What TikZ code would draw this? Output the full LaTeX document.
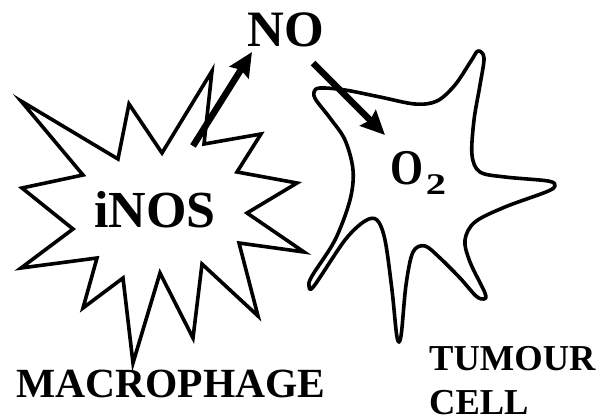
\documentclass[tikz,border=0pt]{standalone}
\usepackage{fontspec}
\setmainfont{Liberation Serif}
\usetikzlibrary{arrows.meta}
\begin{document}
\begin{tikzpicture}[x=1pt,y=-1pt,
  outline/.style={line width=3.6pt,line join=miter,miter limit=20},
  cellline/.style={line width=3.6pt,line join=round},
  flow/.style={line width=6.5pt,-{Stealth[length=24pt,width=22pt,inset=3pt]}},
  label/.style={inner sep=0pt,font=\bfseries}]
\useasboundingbox (0,0) rectangle (603,420);

% macrophage: a jagged star
\draw[outline] (21,101) -- (118,159) -- (129,104) -- (162,153) -- (212,71)
  -- (204,144) -- (261,134) -- (237,172) -- (297,183) -- (247,213)
  -- (304,252) -- (239,243) -- (258,316) -- (202,264) -- (193,338)
  -- (160,273) -- (133,363) -- (123,278) -- (83,308) -- (97,258)
  -- (21,268) -- (73,229) -- (22,188) -- (83,175) -- cycle;

% tumour cell: smooth outline with long processes
\draw[cellline] plot[smooth cycle,tension=0.55] coordinates {
  (320,88) (345,90) (380,97) (415,104) (437,101) (455,85) (471,61)
  (478,51) (484,58) (480,85) (474,120) (472,155) (480,172) (505,177)
  (548,181) (555,186) (546,192) (505,207) (475,222) (465,240) (470,262)
  (485,293) (484,299) (476,296) (460,278) (440,258) (425,246) (413,252)
  (406,285) (401,336) (397,337) (392,290) (385,240) (377,220) (365,221)
  (345,240) (314,286) (309,286) (312,276) (335,240) (350,200) (353,170)
  (345,140) (330,118) (316,100) (314,92)};

% labels
\node[label,anchor=base,font=\bfseries\fontsize{51}{51}\selectfont] (no) at (286,47) {NO};
\node[label,anchor=base,font=\bfseries\fontsize{52}{52}\selectfont] (inos) at (155,227) {iNOS};
\node[label,anchor=base west,font=\bfseries\fontsize{50}{50}\selectfont] (o2) at (390,184)
  {\scalebox{0.85}[1]{O}\kern2.5pt\raisebox{-10pt}{\fontsize{30}{30}\selectfont\scalebox{1.35}[1]{2}}};
\node[label,anchor=base,font=\bfseries\fontsize{41.5}{41.5}\selectfont] (macro) at (171,397) {MACROPHAGE};
\node[label,anchor=base west,font=\bfseries\fontsize{36.5}{36.5}\selectfont] (tum) at (429,370) {TUMOUR};
\node[label,anchor=base west,font=\bfseries\fontsize{36.5}{36.5}\selectfont] (cell) at (429,414.5) {CELL};

% NO leaves the macrophage and reaches the tumour cell
\coordinate (srcA) at (193,146);
\coordinate (dstA) at (252,52);
\coordinate (srcB) at (313,63);
\coordinate (dstB) at (385,135);
\draw[flow] (srcA) -- (dstA);
\draw[flow] (srcB) -- (dstB);
\end{tikzpicture}
\end{document}
